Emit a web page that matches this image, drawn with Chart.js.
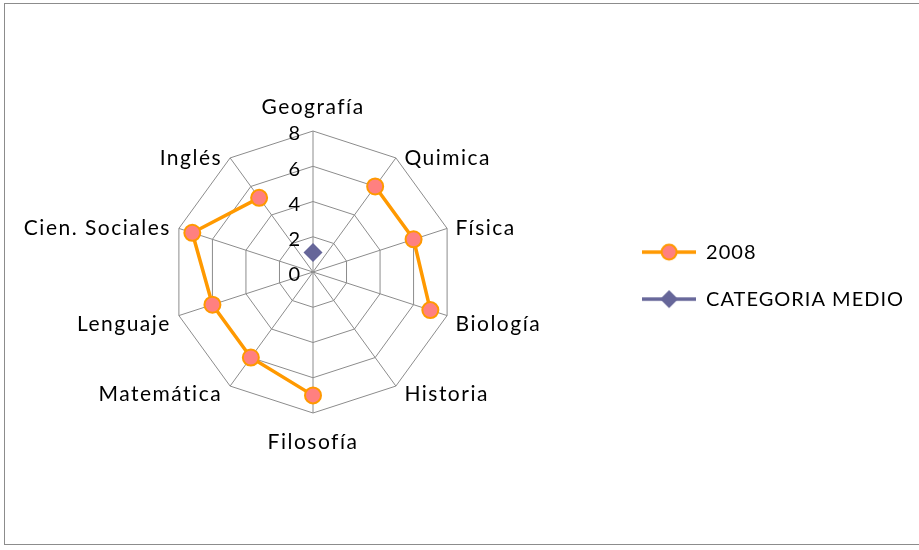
<!DOCTYPE html>
<html>
<head>
<meta charset="utf-8">
<script src="https://cdn.jsdelivr.net/npm/chart.js@4.4.1/dist/chart.umd.min.js"></script>
<style>
  html, body { margin: 0; padding: 0; background: #fff; }
  #wrap { position: relative; width: 919px; height: 550px; overflow: hidden; }
  #marco { position: absolute; left: 4px; top: 3px; width: 920px; height: 542px; border: 1.5px solid #8c8c8c; box-sizing: border-box; }
  canvas { position: absolute; left: 0; top: 0; }
</style>
</head>
<body>
<div id="wrap">
  <div id="marco"></div>
  <canvas id="grafico" width="919" height="550"></canvas>
</div>
<script>
// materias del radar
const materias = ['Geografía', 'Quimica', 'Física', 'Biología', 'Historia', 'Filosofía', 'Matemática', 'Lenguaje', 'Cien. Sociales', 'Inglés'];
// serie 2008 (vacíos donde no hay dato)
const notas2008 = [null, 6, 6, 7, null, 7, 6, 6, 7.2, 5.2];
// serie CATEGORIA MEDIO
const categoriaMedio = [1.1, null, null, null, null, null, null, null, null, null];
// escala
const marcas = [0, 2, 4, 6, 8];

const fuente = 'Lato, "Open Sans", sans-serif';

// icono de leyenda: linea con marcador en el medio
function iconoLeyenda(color, relleno, forma) {
    const c = document.createElement('canvas');
    c.width = 54; c.height = 22;
    const g = c.getContext('2d');
    g.strokeStyle = color;
    g.lineWidth = 3.5;
    g.beginPath(); g.moveTo(0, 11); g.lineTo(54, 11); g.stroke();
    g.fillStyle = relleno;
    if (forma === 'circulo') {
        g.lineWidth = 2;
        g.beginPath(); g.arc(27, 11, 7.5, 0, Math.PI * 2); g.fill(); g.stroke();
    } else {
        g.beginPath();
        g.moveTo(18, 11); g.lineTo(27, 2); g.lineTo(36, 11); g.lineTo(27, 20);
        g.closePath(); g.fill();
    }
    return c;
}

// espaciado de letras parecido al original
const espaciado = {
    id: 'espaciado',
    beforeUpdate(chart) { chart.ctx.letterSpacing = '1px'; },
    beforeDraw(chart) { chart.ctx.letterSpacing = '1px'; }
};

// etiquetas de escala y de materias al estilo Excel
const etiquetas = {
    id: 'etiquetas',
    beforeDatasetsDraw(chart) {
        const r = chart.scales.r;
        const ctx = chart.ctx;
        ctx.save();
        ctx.font = '20px ' + fuente;
        ctx.fillStyle = '#000';
        // escala a la izquierda del eje vertical
        ctx.textAlign = 'right';
        ctx.textBaseline = 'middle';
        marcas.forEach(v => {
            const d = r.getDistanceFromCenterForValue(v);
            ctx.fillText(String(v), r.xCenter - 12, r.yCenter - d + 3);
        });
        // materias junto a cada vértice
        ctx.font = '21px ' + fuente;
        ctx.letterSpacing = '1.5px';
        ctx.textBaseline = 'alphabetic';
        chart.data.labels.forEach((txt, i) => {
            const p = r.getPointPosition(i, r.drawingArea);
            const dx = p.x - r.xCenter;
            const dy = p.y - r.yCenter;
            let x = p.x, y = p.y;
            if (Math.abs(dx) < 1) {
                ctx.textAlign = 'center';
                y += dy < 0 ? -17 : 36;
            } else {
                ctx.textAlign = dx > 0 ? 'left' : 'right';
                x += dx > 0 ? 8.5 : -8;
                y += dy < 0 ? 7 : 15;
            }
            ctx.fillText(txt, x, y);
        });
        ctx.restore();
    }
};

new Chart(document.getElementById('grafico').getContext('2d'), {
    type: 'radar',
    data: {
        labels: materias,
        datasets: [{
            label: '2008',
            data: notas2008,
            borderColor: '#ff9900',
            backgroundColor: '#ff8080',
            borderWidth: 3.5,
            fill: false,
            pointStyle: 'circle',
            pointRadius: 8,
            pointHoverRadius: 8,
            pointBorderWidth: 2,
            pointBorderColor: '#ff9900',
            pointBackgroundColor: '#ff8080',
            spanGaps: false
        }, {
            label: 'CATEGORIA MEDIO',
            data: categoriaMedio,
            borderColor: '#666699',
            backgroundColor: '#666699',
            borderWidth: 3.5,
            fill: false,
            pointStyle: 'rectRot',
            pointRadius: 9.5,
            pointHoverRadius: 9.5,
            pointBorderWidth: 0,
            pointBackgroundColor: '#666699',
            spanGaps: false
        }]
    },
    options: {
        responsive: false,
        animation: false,
        layout: { padding: { top: 131, bottom: 137, left: 12, right: 5 } },
        elements: { line: { tension: 0 } },
        plugins: {
            legend: {
                position: 'right',
                title: { display: true, text: '', padding: 0, font: { size: 6 } },
                labels: {
                    usePointStyle: true,
                    pointStyleWidth: 54,
                    padding: 27,
                    color: '#000',
                    font: { family: fuente, size: 20 },
                    generateLabels(chart) {
                        const iconos = [iconoLeyenda('#ff9900', '#ff8080', 'circulo'), iconoLeyenda('#666699', '#666699', 'rombo')];
                        return chart.data.datasets.map((ds, i) => ({
                            text: ds.label,
                            pointStyle: iconos[i],
                            fillStyle: 'transparent',
                            strokeStyle: 'transparent',
                            lineWidth: 0,
                            fontColor: '#000',
                            datasetIndex: i
                        }));
                    }
                }
            },
            tooltip: { enabled: false }
        },
        scales: {
            r: {
                min: 0,
                max: 8,
                ticks: { stepSize: 2, display: false },
                grid: { color: '#8c8c8c', lineWidth: 1 },
                angleLines: { color: '#8c8c8c', lineWidth: 1 },
                pointLabels: { display: false }
            }
        }
    },
    plugins: [espaciado, etiquetas]
});
</script>
</body>
</html>
